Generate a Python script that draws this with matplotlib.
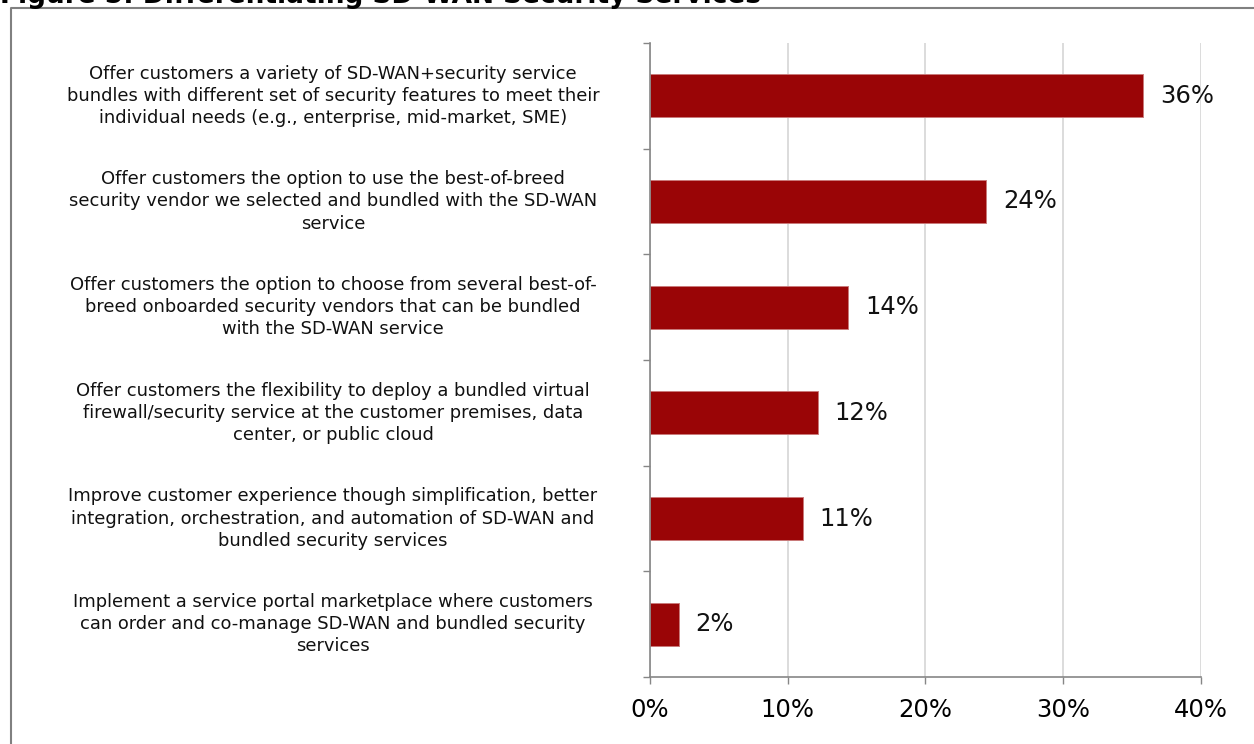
import matplotlib
matplotlib.use("Agg")
import matplotlib.pyplot as plt
import matplotlib.transforms as mtransforms
from matplotlib.lines import Line2D
import numpy as np

plt.rcParams["font.family"] = ["DejaVu Sans"]

# 응답 항목과 비율(%)
categories = [
    "Offer customers a variety of SD-WAN+security service\nbundles with different set of security features to meet their\nindividual needs (e.g., enterprise, mid-market, SME)",
    "Offer customers the option to use the best-of-breed\nsecurity vendor we selected and bundled with the SD-WAN\nservice",
    "Offer customers the option to choose from several best-of-\nbreed onboarded security vendors that can be bundled\nwith the SD-WAN service",
    "Offer customers the flexibility to deploy a bundled virtual\nfirewall/security service at the customer premises, data\ncenter, or public cloud",
    "Improve customer experience though simplification, better\nintegration, orchestration, and automation of SD-WAN and\nbundled security services",
    "Implement a service portal marketplace where customers\ncan order and co-manage SD-WAN and bundled security\nservices",
]
values = [35.8, 24.4, 14.4, 12.2, 11.1, 2.1]
xticks = [0, 10, 20, 30, 40]
title = "Figure 5: Differentiating SD-WAN Security Services"

W, H = 1254, 744
fig = plt.figure(figsize=(W / 100, H / 100), dpi=100)
ax = fig.add_axes([650 / W, 1 - 677 / H, 551 / W, 634 / H])

y = np.arange(len(categories))
bars = ax.barh(y, values, height=0.41, color="#9a0506", edgecolor="#c97a7a", linewidth=0.7, zorder=3)

for bar, v in zip(bars, values):
    ax.annotate(f"{v:.0f}%", (bar.get_width(), bar.get_y() + bar.get_height() / 2),
                xytext=(12, 0), textcoords="offset points",
                ha="left", va="center", fontsize=17.5, color="#111111")

ax.set_xlim(0, 40)
ax.set_ylim(len(categories) - 0.5, -0.5)
ax.set_xticks(xticks)
ax.set_xticklabels([f"{t}%" for t in xticks], fontsize=17.5)
ax.set_yticks(np.arange(-0.5, len(categories), 1))
ax.set_yticklabels([])
ax.tick_params(axis="both", direction="out", color="#868686", length=5, width=1)
ax.tick_params(axis="x", pad=10)
ax.grid(axis="x", color="#d9d9d9", linewidth=1.3, zorder=0)
for side in ["top", "right"]:
    ax.spines[side].set_visible(False)
for side in ["left", "bottom"]:
    ax.spines[side].set_color("#868686")
    ax.spines[side].set_linewidth(1.2)
    ax.spines[side].set_zorder(4)

# 항목 설명은 축 왼쪽에 가운데 정렬로
trans = mtransforms.blended_transform_factory(fig.transFigure, ax.transData)
for yi, label in zip(y, categories):
    ax.text(333 / W, yi, label, transform=trans, ha="center", va="center",
            multialignment="center", fontsize=12.9, linespacing=1.3, color="#111111")

# 바깥 테두리
fx = 11 / W
fy = 1 - 7.5 / H
fig.add_artist(Line2D([fx, fx, 1.0], [0, fy, fy], transform=fig.transFigure,
                      color="#808080", linewidth=1.5))

fig.text(0.0, 1 - 3 / H, title, ha="left", va="baseline", fontsize=19, fontweight="bold")

fig.savefig("out.png", dpi=100)
